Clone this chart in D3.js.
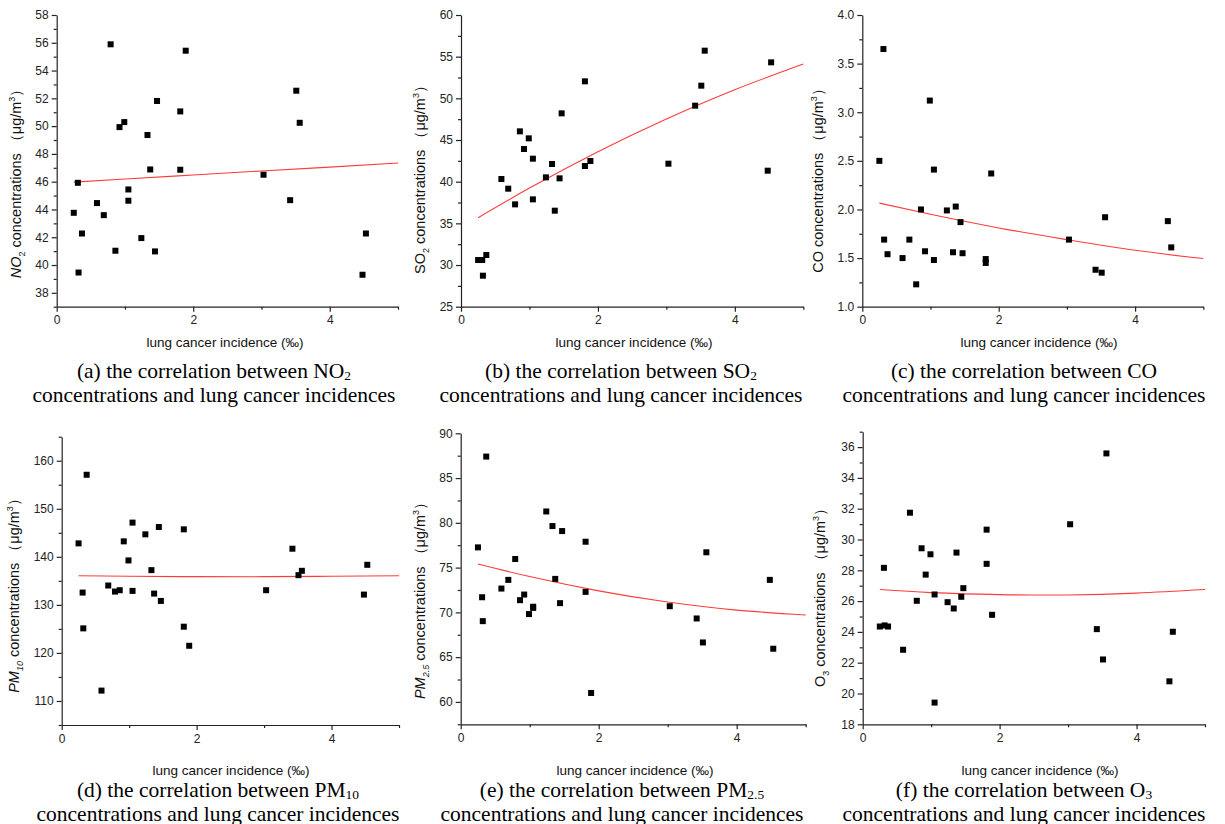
<!DOCTYPE html>
<html>
<head>
<meta charset="utf-8">
<script src="https://cdn.jsdelivr.net/npm/d3@7/dist/d3.min.js"></script>
<style>
  html, body { margin: 0; padding: 0; background: #fff; }
  svg { display: block; }
  .tick text { font-family: "Liberation Sans", Arial, sans-serif; font-size: 12px; fill: #222; }
  .axis path, .axis line { stroke: #222; stroke-width: 1.2px; }
</style>
</head>
<body>
<svg id="chart" width="1225" height="824"></svg>
<script>
// ---- data ----
const incidence = [0.25, 0.31, 0.32, 0.37, 0.59, 0.69, 0.79, 0.86, 0.92, 0.99, 1.05, 1.05, 1.24,
                   1.33, 1.37, 1.44, 1.47, 1.81, 1.81, 1.89, 3.03, 3.42, 3.51, 3.56, 4.48, 4.53];
const no2  = [43.76, 45.92, 39.46, 42.27, 44.46, 43.59, 55.89, 41.03, 49.93, 50.29, 45.44, 44.63, 41.94,
              49.36, 46.88, 40.98, 51.81, 51.06, 46.86, 55.43, 46.50, 44.67, 52.55, 50.24, 39.30, 42.27];
const so2  = [30.6, 30.6, 28.72, 31.2, 40.32, 39.16, 37.28, 46.04, 43.92, 45.2, 42.76, 37.88, 40.52,
              42.12, 36.52, 40.4, 48.2, 52.04, 41.88, 42.48, 42.16, 49.12, 51.52, 55.72, 41.32, 54.32];
const co   = [2.50, 3.65, 1.69, 1.54, 1.50, 1.69, 1.23, 2.00, 1.57, 3.12, 2.41, 1.48, 1.99,
              1.56, 2.03, 1.87, 1.55, 1.49, 1.45, 2.37, 1.69, 1.38, 1.35, 1.92, 1.88, 1.61];
const pm10 = [142.8, 132.56, 125.11, 157.08, 112.16, 134.03, 132.77, 133.05, 143.22, 139.25, 147.12, 132.91, 144.68,
              137.23, 132.35, 146.2, 130.82, 145.72, 125.46, 121.49, 133.05, 141.69, 136.18, 137.09, 132.14, 138.34];
const pm25 = [77.26, 71.69, 69.02, 87.40, 72.66, 73.63, 75.96, 71.36, 71.99, 69.81, 70.63, 70.5, 81.27,
              79.64, 73.74, 71.03, 79.08, 77.89, 72.29, 61.0, 70.69, 69.32, 66.64, 76.71, 73.63, 65.94];
const o3   = [24.35, 28.16, 24.42, 24.35, 22.84, 31.74, 26.02, 29.43, 27.72, 29.04, 26.43, 19.41, 25.93,
              25.52, 29.15, 26.28, 26.84, 30.64, 28.42, 25.11, 30.99, 24.18, 22.21, 35.59, 20.79, 24.01];

// fitted curves (red) at these incidence values
const fitX     = [0.25, 1, 2, 3, 4, 5];
const fitNO2   = [45.97, 46.19, 46.48, 46.77, 47.05, 47.34];
const fitSO2   = [35.68, 39.23, 43.6, 47.53, 51.04, 54.12];
const fitCO    = [2.065, 1.95, 1.81, 1.69, 1.58, 1.495];
const fitPM10  = [136.05, 135.95, 135.87, 135.87, 135.95, 136.05];
const fitPM25  = [75.4, 74.0, 72.4, 71.15, 70.25, 69.7];
const fitO3    = [26.75, 26.55, 26.42, 26.40, 26.52, 26.75];

// tick values
const xTicks = [0, 2, 4];
const xMinorTicks = [1, 3, 5];
const no2Ticks  = [38, 40, 42, 44, 46, 48, 50, 52, 54, 56, 58];
const so2Ticks  = [25, 30, 35, 40, 45, 50, 55, 60];
const coTicks   = [1.0, 1.5, 2.0, 2.5, 3.0, 3.5, 4.0];
const pm10Ticks = [110, 120, 130, 140, 150, 160];
const pm25Ticks = [60, 65, 70, 75, 80, 85, 90];
const o3Ticks   = [18, 20, 22, 24, 26, 28, 30, 32, 34, 36];

const xLabel = "lung cancer incidence (‰)";
const captionLine2 = "concentrations and lung cancer incidences";

// ---- layout ----
const panels = [
  { id: "a", values: no2, fit: fitNO2, ticks: no2Ticks, minorStep: 1, dom: [37, 58], fmt: "d",
    x0: 56.7, x1: 398, yT: 15, yB: 306.7, titleX: 21, titleY: 180, xLabX: 225, xLabY: 347,
    capX: 214, capY: 378, gas: "NO", sub: "2", italic: true },
  { id: "b", values: so2, fit: fitSO2, ticks: so2Ticks, minorStep: 2.5, dom: [25, 60], fmt: "d",
    x0: 461, x1: 803.3, yT: 15, yB: 306.7, titleX: 425, titleY: 176, xLabX: 634, xLabY: 347,
    capX: 621, capY: 378, gas: "SO", sub: "2", italic: false },
  { id: "c", values: co, fit: fitCO, ticks: coTicks, minorStep: 0.25, dom: [1, 4], fmt: ".1f",
    x0: 862.3, x1: 1203.3, yT: 15, yB: 306.7, titleX: 823, titleY: 177, xLabX: 1039, xLabY: 347,
    capX: 1024, capY: 378, gas: "CO", sub: "", italic: false },
  { id: "d", values: pm10, fit: fitPM10, ticks: pm10Ticks, minorStep: 5, dom: [105, 165], fmt: "d",
    x0: 61.7, x1: 399, yT: 436.7, yB: 725, titleX: 19, titleY: 592, xLabX: 231, xLabY: 775,
    capX: 218, capY: 797, gas: "PM", sub: "10", italic: true },
  { id: "e", values: pm25, fit: fitPM25, ticks: pm25Ticks, minorStep: 2.5, dom: [57.5, 90], fmt: "d",
    x0: 460.7, x1: 805.7, yT: 433.3, yB: 724.3, titleX: 425, titleY: 597, xLabX: 635, xLabY: 775,
    capX: 622, capY: 797, gas: "PM", sub: "2.5", italic: true },
  { id: "f", values: o3, fit: fitO3, ticks: o3Ticks, minorStep: 1, dom: [18, 37], fmt: "d",
    x0: 862.7, x1: 1205, yT: 431.7, yB: 724.3, titleX: 825, titleY: 594, xLabX: 1040, xLabY: 775,
    capX: 1024, capY: 797, gas: "O", sub: "3", italic: false }
];

const svg = d3.select("#chart");
const sans = '"Liberation Sans", Arial, sans-serif';
const serif = '"Liberation Serif", "Times New Roman", serif';

panels.forEach(p => {
  const g = svg.append("g").attr("class", "panel-" + p.id);
  const x = d3.scaleLinear().domain([0, 5]).range([p.x0, p.x1]);
  const y = d3.scaleLinear().domain(p.dom).range([p.yB, p.yT]);

  // minor ticks
  const yMinor = d3.range(p.dom[0], p.dom[1] + 1e-9, p.minorStep).filter(v => !p.ticks.some(t => Math.abs(t - v) < 1e-9));
  g.append("g").attr("class", "axis")
    .attr("transform", `translate(0,${p.yB})`)
    .call(d3.axisBottom(x).tickValues(xMinorTicks).tickSize(3).tickFormat(""))
    .call(s => s.select(".domain").remove());
  g.append("g").attr("class", "axis")
    .attr("transform", `translate(${p.x0},0)`)
    .call(d3.axisLeft(y).tickValues(yMinor).tickSize(3).tickFormat(""))
    .call(s => s.select(".domain").remove());

  // major axes
  g.append("g").attr("class", "axis")
    .attr("transform", `translate(0,${p.yB})`)
    .call(d3.axisBottom(x).tickValues(xTicks).tickSize(5).tickSizeOuter(0).tickPadding(4).tickFormat(d3.format("d")));
  g.append("g").attr("class", "axis")
    .attr("transform", `translate(${p.x0},0)`)
    .call(d3.axisLeft(y).tickValues(p.ticks).tickSize(5).tickSizeOuter(0).tickPadding(3).tickFormat(d3.format(p.fmt)));

  // fit curve
  const line = d3.line().x((d, i) => x(fitX[i])).y(d => y(d)).curve(d3.curveNatural);
  g.append("path").datum(p.fit).attr("d", line)
    .attr("fill", "none").attr("stroke", "#ff3b3b").attr("stroke-width", 1.1);

  // points
  const s = 6;
  g.selectAll("rect.pt").data(p.values).enter().append("rect")
    .attr("class", "pt")
    .attr("x", (d, i) => x(incidence[i]) - s / 2)
    .attr("y", d => y(d) - s / 2)
    .attr("width", s).attr("height", s)
    .attr("fill", "#000");

  // y title
  const yt = g.append("text")
    .attr("transform", `translate(${p.titleX},${p.titleY}) rotate(-90)`)
    .attr("text-anchor", "middle")
    .attr("font-family", sans).attr("font-size", 14.5).attr("fill", "#111");
  yt.append("tspan").attr("font-style", p.italic ? "italic" : "normal").text(p.gas);
  if (p.sub) {
    yt.append("tspan").attr("font-size", 9).attr("dy", 4)
      .attr("font-style", p.italic && p.gas === "PM" ? "italic" : "normal").text(p.sub);
    yt.append("tspan").attr("dy", -4).text(" concentrations （μg/m");
  } else {
    yt.append("tspan").text(" concentrations （μg/m");
  }
  yt.append("tspan").attr("font-size", 9).attr("dy", -6).text("3");
  yt.append("tspan").attr("dy", 6).text("）");

  // x label
  g.append("text").attr("x", p.xLabX).attr("y", p.xLabY)
    .attr("text-anchor", "middle").attr("font-family", sans).attr("font-size", 13.5).attr("fill", "#111")
    .text(xLabel);

  // caption
  const c1 = g.append("text").attr("x", p.capX).attr("y", p.capY)
    .attr("text-anchor", "middle").attr("font-family", serif).attr("font-size", 21.5).attr("fill", "#000");
  c1.append("tspan").text(`(${p.id}) the correlation between ${p.gas}`);
  if (p.sub) c1.append("tspan").attr("font-size", 13.5).attr("dy", 2).text(p.sub);
  g.append("text").attr("x", p.capX).attr("y", p.capY + 23.5)
    .attr("text-anchor", "middle").attr("font-family", serif).attr("font-size", 21.5).attr("fill", "#000")
    .text(captionLine2);
});
</script>
</body>
</html>
